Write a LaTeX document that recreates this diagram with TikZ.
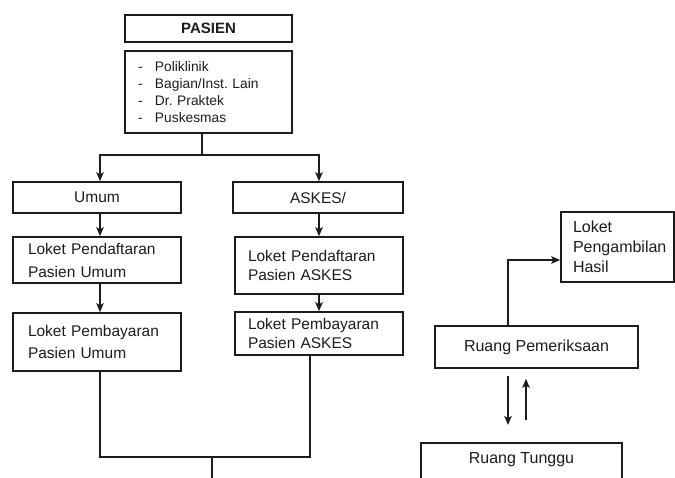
\documentclass[tikz,border=0pt]{standalone}
\usepackage{fontspec}
\setmainfont{Liberation Sans}
\usetikzlibrary{arrows.meta}
\definecolor{ink}{RGB}{28,28,28}
\frenchspacing
\begin{document}
\begin{tikzpicture}[x=1pt,y=-1pt,
  box/.style={draw=ink, line width=1.6pt, rectangle, inner ysep=0pt, text=ink,
    font=\fontsize{15.5}{22}\selectfont},
  cbox/.style n args={2}{box, minimum width=#1, minimum height=#2, inner xsep=0pt, align=center},
  lbox/.style n args={3}{box, text width=#1, inner xsep=#3, minimum height=#2, align=left},
  link/.style={draw=ink, line width=1.3pt},
  arrow/.style={link, -{Stealth[length=9pt,width=7.5pt,inset=2pt]}}]
\useasboundingbox (0,0) rectangle (675,478);
\clip (0,0) rectangle (675,478);

% referral source
\node[cbox={167}{27}, font=\fontsize{15}{18}\selectfont\bfseries] (pasien) at (208.5,28.5) {PASIEN};
\node[lbox={141}{82}{13}, font=\fontsize{13.8}{17}\selectfont] (asal) at (208.5,92)
  {\makebox[17pt][l]{-}Poliklinik\\
   \makebox[17pt][l]{-}Bagian/Inst. Lain\\
   \makebox[17pt][l]{-}Dr. Praktek\\
   \makebox[17pt][l]{-}Puskesmas};

% general patients
\node[cbox={168}{31}] (umum) at (97,197.5) {Umum};
\node[lbox={138}{46}{15}, font=\fontsize{15.5}{23}\selectfont] (daftarU) at (97,260)
  {Loket Pendaftaran\\Pasien Umum};
\node[lbox={138}{58}{15}, font=\fontsize{15.5}{22}\selectfont] (bayarU) at (97,342)
  {Loket Pembayaran\\Pasien Umum};

% insured patients
\node[cbox={170}{31}] (askes) at (318,197.5) {ASKES/};
\node[lbox={142}{57}{13}, font=\fontsize{15.5}{19.5}\selectfont] (daftarA) at (319,265.5)
  {Loket Pendaftaran\\Pasien ASKES};
\node[lbox={142}{43}{13}, font=\fontsize{15.5}{18.5}\selectfont] (bayarA) at (319,333.5)
  {Loket Pembayaran\\Pasien ASKES};

% examination area
\node[lbox={89}{70}{12}, font=\fontsize{16}{20}\selectfont] (hasil) at (617.5,247)
  {Loket\\Pengambilan\\Hasil};
\node[cbox={203}{42}, font=\fontsize{16}{20}\selectfont] (periksa) at (536.5,347) {Ruang Pemeriksaan};
\node[box, anchor=north, minimum width=201, inner xsep=0pt, inner ysep=10pt,
  text height=11pt, text depth=40pt, font=\fontsize{16}{20}\selectfont] (tunggu) at (521.5,442) {Ruang Tunggu};

% connectors, left column
\coordinate (split) at (202,155);
\draw[link] ([xshift=-6.5]asal.south) -- (split);
\draw[arrow] (split) -| ([xshift=3]umum.north);
\draw[arrow] (split) -| ([xshift=1]askes.north);
\draw[arrow] ([xshift=3]umum.south) -- ([xshift=3]daftarU.north);
\draw[arrow] ([xshift=3]daftarU.south) -- ([xshift=3]bayarU.north);
\draw[arrow] ([xshift=1]askes.south) -- (daftarA.north);
\draw[arrow] (daftarA.south) -- (bayarA.north);
\coordinate (merge) at (212,457);
\coordinate (exit) at (212,485);
\draw[link] ([xshift=3]bayarU.south) |- (merge) -| ([xshift=-9]bayarA.south);
\draw[link] (merge) -- (exit);

% connectors, right column
\draw[arrow] ([xshift=-28.5]periksa.north) |- ([yshift=-13]hasil.west);
\draw[arrow, shorten <=7pt, shorten >=17pt] ([xshift=-28.5]periksa.south) -- ([xshift=-28.5]periksa.south |- tunggu.north);
\draw[arrow, shorten <=22pt, shorten >=10pt] ([xshift=-10.5]periksa.south |- tunggu.north) -- ([xshift=-10.5]periksa.south);
\end{tikzpicture}
\end{document}
